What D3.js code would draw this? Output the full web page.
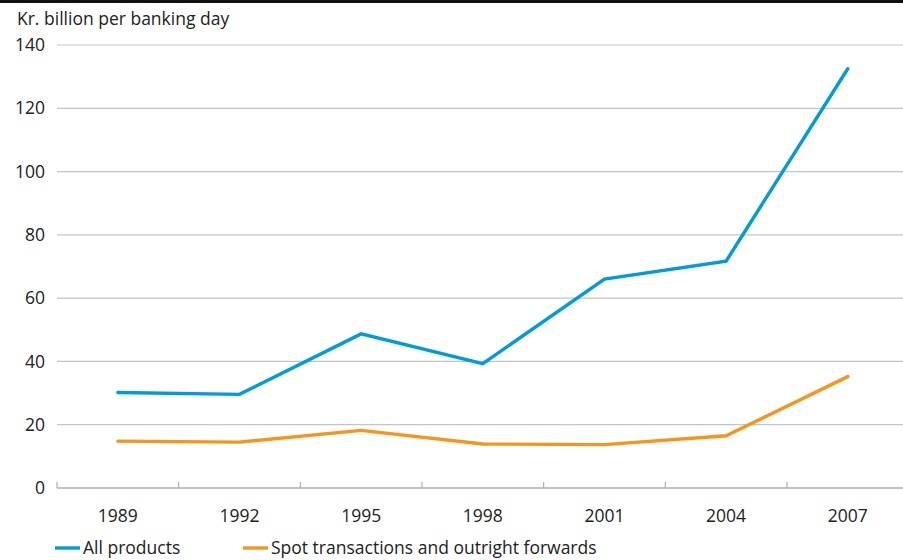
<!DOCTYPE html>
<html>
<head>
<meta charset="utf-8">
<script src="https://cdn.jsdelivr.net/npm/d3@7"></script>
<style>
  body { margin: 0; background: #fff; }
  svg { display: block; font-family: "Open Sans", "Noto Sans", sans-serif; }
</style>
</head>
<body>
<svg id="chart" width="903" height="560"></svg>
<script>
const years = ["1989", "1992", "1995", "1998", "2001", "2004", "2007"];
const allProducts = [30.2, 29.6, 48.7, 39.3, 66.0, 71.7, 132.5];
const spotForwards = [14.8, 14.5, 18.2, 13.9, 13.7, 16.5, 35.2];
const yTicks = [0, 20, 40, 60, 80, 100, 120, 140];
const seriesNames = ["All products", "Spot transactions and outright forwards"];
const seriesColors = ["#009bdb", "#f7941d"];

const svg = d3.select("#chart");
const W = 903;
const FS = 17.5;

// top rule
svg.append("rect").attr("x", 0).attr("y", 0).attr("width", W).attr("height", 3).attr("fill", "#111");

const x = d3.scaleBand().domain(years).range([57, 908.6]).paddingInner(0).paddingOuter(0);
const y = d3.scaleLinear().domain([0, 140]).range([488, 45]);

// gridlines
svg.append("g").selectAll("line").data(yTicks.filter(d => d > 0)).join("line")
  .attr("x1", 57).attr("x2", W)
  .attr("y1", d => y(d)).attr("y2", d => y(d))
  .attr("stroke", "#c4c4c4").attr("stroke-width", 1.2);

// y labels
svg.append("g").selectAll("text").data(yTicks).join("text")
  .attr("x", 45).attr("y", d => y(d)).attr("dy", "0.35em")
  .attr("text-anchor", "end").attr("font-size", FS).attr("fill", "#222")
  .text(d => d);

// x axis
const gx = svg.append("g").attr("transform", "translate(0,488)");
gx.append("line").attr("x1", 57).attr("x2", W).attr("y1", 0).attr("y2", 0)
  .attr("stroke", "#b0b0b0").attr("stroke-width", 1.5);
gx.selectAll("line.tk").data(years).join("line").attr("class", "tk")
  .attr("x1", d => x(d)).attr("x2", d => x(d)).attr("y1", 0).attr("y2", -6)
  .attr("stroke", "#b0b0b0").attr("stroke-width", 1.2);
gx.selectAll("text").data(years).join("text")
  .attr("x", d => x(d) + x.bandwidth() / 2).attr("y", 34)
  .attr("text-anchor", "middle").attr("font-size", FS).attr("fill", "#222")
  .text(d => d);

// lines
const line = d3.line().x((d, i) => x(years[i]) + x.bandwidth() / 2).y(d => y(d));
[allProducts, spotForwards].forEach((s, i) => {
  svg.append("path").datum(s).attr("d", line)
    .attr("fill", "none").attr("stroke", seriesColors[i]).attr("stroke-width", 3.4)
    .attr("stroke-linejoin", "miter").attr("stroke-linecap", "round");
});

// legend
const legX = [55, 243];
seriesNames.forEach((n, i) => {
  const g = svg.append("g").attr("transform", `translate(${legX[i]},548)`);
  g.append("line").attr("x1", 0).attr("x2", 25).attr("stroke", seriesColors[i]).attr("stroke-width", 3.4);
  g.append("text").attr("x", 28).attr("y", 0).attr("dy", "0.35em")
    .attr("font-size", FS).attr("fill", "#222").text(n);
});

// title
svg.append("text").attr("x", 17).attr("y", 25).attr("font-size", FS).attr("fill", "#222")
  .text("Kr. billion per banking day");
</script>
</body>
</html>
